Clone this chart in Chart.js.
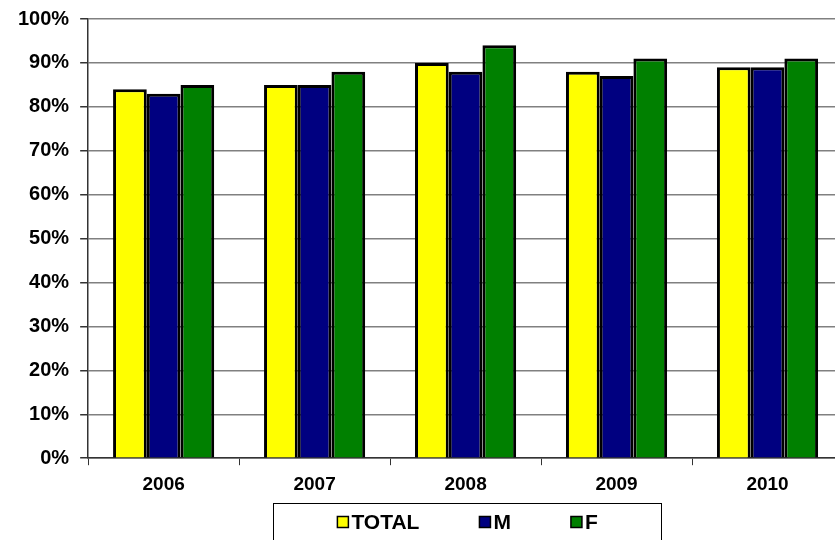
<!DOCTYPE html>
<html>
<head>
<meta charset="utf-8">
<script src="https://cdn.jsdelivr.net/npm/chart.js@4"></script>
<style>
  html, body { margin: 0; padding: 0; background: #fff; overflow: hidden; }
  canvas { display: block; }
</style>
</head>
<body>
<canvas id="rate-chart" width="846" height="540"></canvas>
<script>
// values, in percent
let years = ['2006', '2007', '2008', '2009', '2010'];
let totalValues = [84, 85, 90, 88, 89];
let mValues = [83, 85, 88, 87, 89];
let fValues = [85, 88, 94, 91, 91];
let seriesNames = ['TOTAL', 'M', 'F'];

let fontFamily = 'Arial, "Liberation Sans", sans-serif';

// legend in a plain bordered box under the axis, drawn from the datasets
let boxedLegend = {
    id: 'boxedLegend',
    afterDraw(chart) {
        let ctx = chart.ctx;
        let area = chart.chartArea;
        let items = chart.data.datasets;
        let sq = 11, gapText = 3, gapItem = 60, side = 64;
        ctx.save();
        ctx.font = 'bold 21px ' + fontFamily;
        let widths = items.map(d => ctx.measureText(d.label).width);
        let total = 0;
        widths.forEach((w, i) => { total += sq + gapText + w + (i < widths.length - 1 ? gapItem : 0); });
        let center = (area.left + area.right) / 2 + 2;
        let top = 503;
        let x = center - total / 2;
        ctx.strokeStyle = '#000';
        ctx.lineWidth = 1;
        ctx.strokeRect(Math.round(x - side) + 0.5, top + 0.5, Math.round(total + 2 * side), 44);
        let mid = top + 19;
        items.forEach((d, i) => {
            ctx.fillStyle = d.backgroundColor;
            ctx.fillRect(x, mid - sq / 2, sq, sq);
            ctx.lineWidth = 1.5;
            ctx.strokeRect(x, mid - sq / 2, sq, sq);
            ctx.fillStyle = '#000';
            ctx.textBaseline = 'middle';
            ctx.textAlign = 'left';
            ctx.fillText(d.label, x + sq + gapText, mid + 1);
            x += sq + gapText + widths[i] + gapItem;
        });
        ctx.restore();
    }
};

function makeBarSet(label, values, color) {
    return {
        label: label,
        data: values,
        backgroundColor: color,
        borderColor: '#000',
        borderWidth: 3,
        borderSkipped: 'bottom',
        categoryPercentage: 0.67,
        barPercentage: 1.0
    };
}

let rateElement = document.getElementById('rate-chart').getContext('2d');

let rateChart = new Chart(rateElement, {
    type: 'bar',
    data: {
        labels: years,
        datasets: [
            makeBarSet(seriesNames[0], totalValues, '#FFFF00'),
            makeBarSet(seriesNames[1], mValues, '#000080'),
            makeBarSet(seriesNames[2], fValues, '#008000')
        ]
    },
    options: {
        responsive: false,
        animation: false,
        layout: {
            padding: { left: 7, top: 0, right: 3, bottom: 36 }
        },
        plugins: {
            legend: { display: false },
            tooltip: { enabled: false }
        },
        scales: {
            x: {
                grid: {
                    display: true,
                    drawOnChartArea: false,
                    drawTicks: true,
                    tickLength: 7,
                    color: '#333',
                    lineWidth: 1
                },
                border: { color: '#333', width: 1.5 },
                ticks: {
                    color: '#000',
                    padding: 8,
                    font: { family: fontFamily, size: 19, weight: 'bold' }
                }
            },
            y: {
                min: 0,
                max: 100,
                grid: {
                    color: '#808080',
                    lineWidth: 1.5,
                    tickLength: 8,
                    tickColor: '#333'
                },
                border: { color: '#333', width: 1.5 },
                ticks: {
                    stepSize: 10,
                    color: '#000',
                    padding: 11,
                    font: { family: fontFamily, size: 20, weight: 'bold', lineHeight: 0.8 },
                    callback: v => v + '%'
                }
            }
        }
    },
    plugins: [boxedLegend]
});
</script>
</body>
</html>
